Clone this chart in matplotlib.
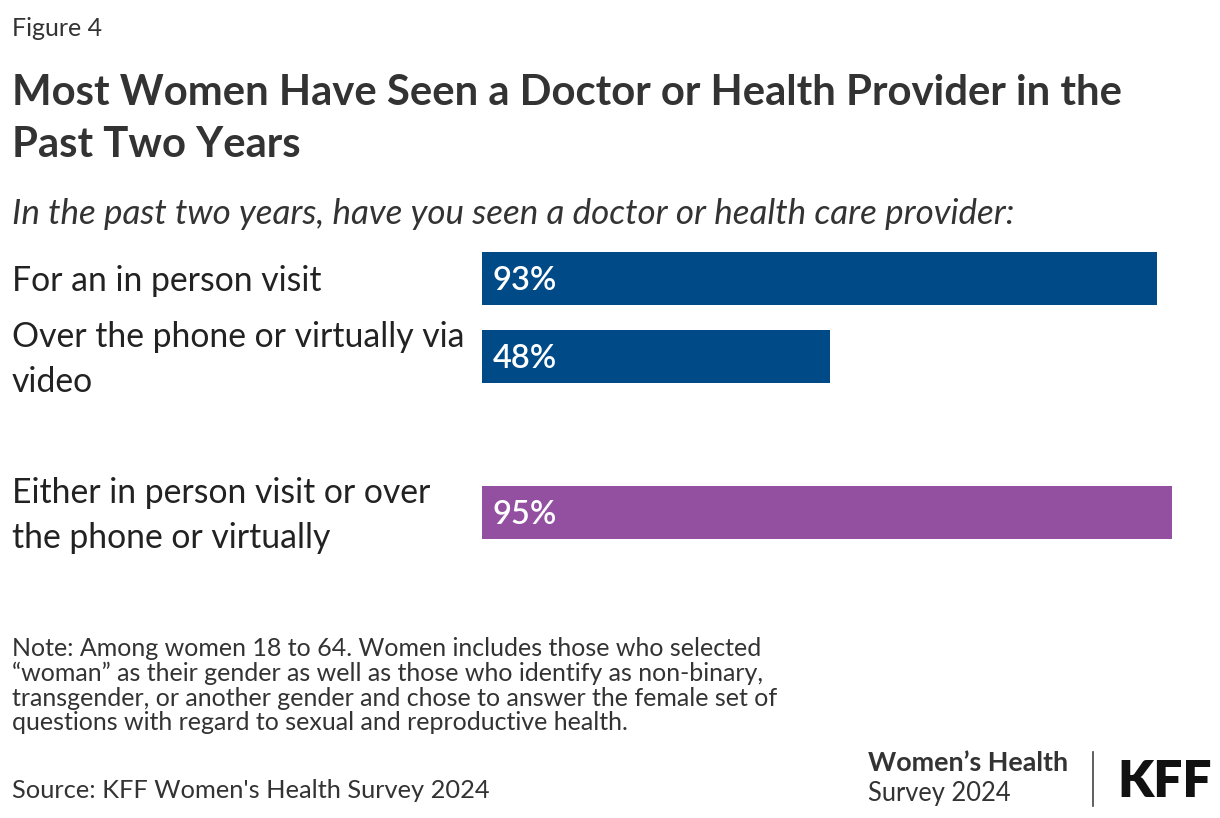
import matplotlib
matplotlib.use("Agg")
import matplotlib.pyplot as plt
from matplotlib.transforms import blended_transform_factory
from matplotlib.lines import Line2D

plt.rcParams['font.family'] = ['Lato', 'DejaVu Sans']

# data
categories = ["For an in person visit",
              "Over the phone or virtually via\nvideo",
              "Either in person visit or over\nthe phone or virtually"]
values = [93, 48, 95]
positions = [0, 1, 3]   # empty slot between second and third bar
colors = ["#004B87", "#004B87", "#9350A0"]

note_lines = ["Note: Among women 18 to 64. Women includes those who selected",
              "\u201cwoman\u201d as their gender as well as those who identify as non-binary,",
              "transgender, or another gender and chose to answer the female set of",
              "questions with regard to sexual and reproductive health."]
source = "Source: KFF Women's Health Survey 2024"

W, H = 1220, 818
fig = plt.figure(figsize=(W / 100, H / 100), dpi=100)
fig.patch.set_facecolor("white")

def fx(px):
    return px / W

def fy(py):
    return 1 - py / H

# axes placed in pixel terms: slot height 78px, first bar centre at y=278.5
ax_left, ax_right = 482, 1208
ax_top, ax_bot = 239.5, 551.5
ax = fig.add_axes([fx(ax_left), fy(ax_bot), fx(ax_right - ax_left), (ax_bot - ax_top) / H])
ax.barh(positions, values, height=0.68, color=colors)
ax.set_xlim(0, 100)
ax.set_ylim(3.5, -0.5)
ax.axis("off")

nudge = 0.035  # text sits a couple of px below bar centre in the original
for p, v in zip(positions, values):
    ax.text(1.5, p + nudge, f"{v}%", color="white", fontsize=23.5, fontweight="semibold",
            va="center", ha="left")

trans = blended_transform_factory(fig.transFigure, ax.transData)
for p, lab in zip(positions, categories):
    ax.text(fx(12), p + nudge, lab, transform=trans, fontsize=24.3, color="#222222",
            va="center", ha="left", linespacing=1.5)

# header
fig.text(fx(12), fy(28), "Figure 4", fontsize=18, color="#333333", va="center")
fig.text(fx(12), fy(93), "Most Women Have Seen a Doctor or Health Provider in the",
         fontsize=30.2, fontweight="bold", color="#333333", va="center")
fig.text(fx(12), fy(145), "Past Two Years",
         fontsize=30.2, fontweight="bold", color="#333333", va="center")
fig.text(fx(12), fy(214), "In the past two years, have you seen a doctor or health care provider:",
         fontsize=25.2, style="italic", color="#333333", va="center")

# notes
for i, line in enumerate(note_lines):
    fig.text(fx(12), fy(648 + 25 * i), line, fontsize=18, color="#333333", va="center")
fig.text(fx(12), fy(791), source, fontsize=18.3, color="#333333", va="center")

# logo
fig.text(fx(868), fy(763), "Women\u2019s Health", fontsize=19.4, fontweight="bold",
         color="#333333", va="center")
fig.text(fx(868), fy(793), "Survey 2024", fontsize=18.4, color="#333333", va="center")
fig.add_artist(Line2D([fx(1093), fx(1093)], [fy(752), fy(806)], color="#444444", lw=1.2))
fig.text(fx(1117), fy(782), "KFF", fontsize=37, fontweight="heavy", color="#111111", va="center")

fig.savefig("out.png", dpi=100)
